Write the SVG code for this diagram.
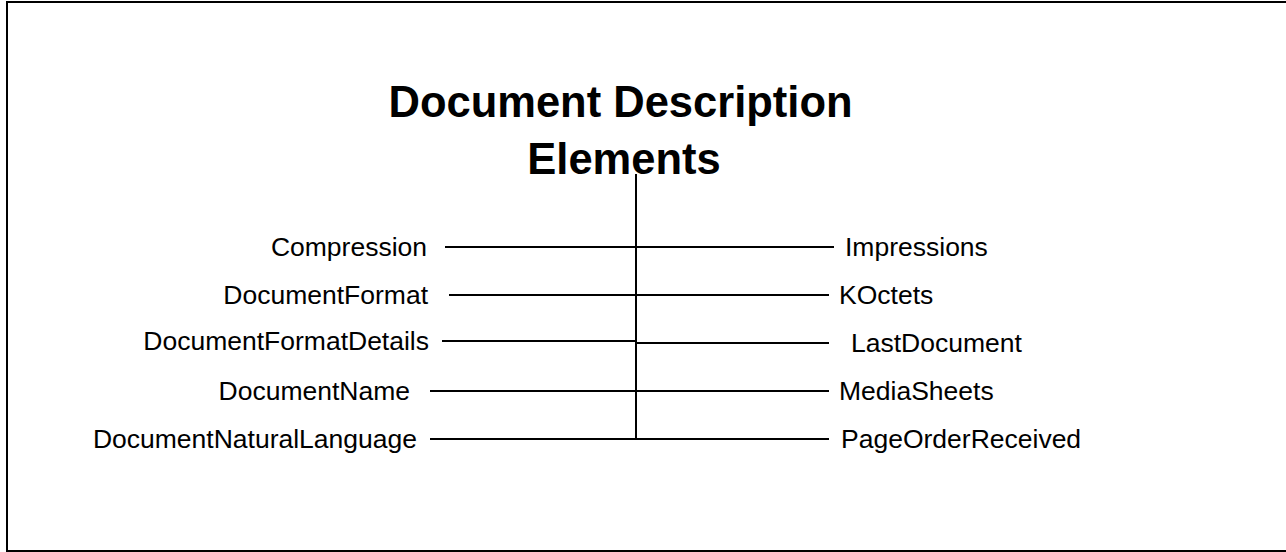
<svg xmlns="http://www.w3.org/2000/svg" width="1286" height="552" viewBox="0 0 1286 552">
<style>
.lbl{font-family:"Liberation Sans",Arial,sans-serif;font-size:26.5px;fill:#000}
.title{font-family:"Liberation Sans",Arial,sans-serif;font-size:43.5px;font-weight:bold;fill:#000}
.ln{stroke:#000;stroke-width:2;fill:none}
.l{text-anchor:end}
</style>
<rect width="1286" height="552" fill="#fff"/>
<path class="ln" d="M7,552 V2 H1286 M7,551 H1286"/>
<g id="title">
<text class="title" x="620.5" y="117" text-anchor="middle">Document Description</text>
<text class="title" x="624" y="174" text-anchor="middle">Elements</text>
</g>
<g id="connectors">
<path class="ln" d="M636,174 V440"/>
<path class="ln" d="M445,247 H636 M449,295 H636 M442,341 H636 M430,391 H636 M430,439 H636"/>
<path class="ln" d="M636,247 H834 M636,295 H829 M636,343 H829 M636,391 H829 M636,439 H829"/>
</g>
<g id="n-compression"><text class="lbl l" x="427" y="256">Compression</text></g>
<g id="n-documentformat"><text class="lbl l" x="428" y="304">DocumentFormat</text></g>
<g id="n-documentformatdetails"><text class="lbl l" x="429" y="350">DocumentFormatDetails</text></g>
<g id="n-documentname"><text class="lbl l" x="410" y="400">DocumentName</text></g>
<g id="n-documentnaturallanguage"><text class="lbl l" x="417" y="448">DocumentNaturalLanguage</text></g>
<g id="n-impressions"><text class="lbl" x="845" y="256">Impressions</text></g>
<g id="n-koctets"><text class="lbl" x="839" y="304">KOctets</text></g>
<g id="n-lastdocument"><text class="lbl" x="851" y="352">LastDocument</text></g>
<g id="n-mediasheets"><text class="lbl" x="839" y="400">MediaSheets</text></g>
<g id="n-pageorderreceived"><text class="lbl" x="841" y="448">PageOrderReceived</text></g>
</svg>
